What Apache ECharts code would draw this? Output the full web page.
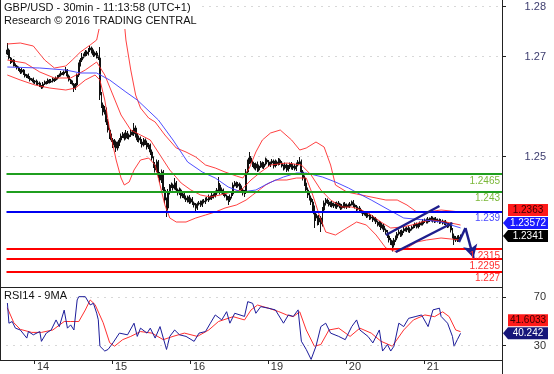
<!DOCTYPE html>
<html><head><meta charset="utf-8">
<script src="https://cdn.jsdelivr.net/npm/echarts@6/dist/echarts.min.js"></script>
<style>html,body{margin:0;padding:0;background:#fff}#c{width:554px;height:374px}</style>
</head><body><div id="c"></div>
<script>
// ---------------- data ----------------
const firstOpen = 1.2705;
const closes = [
1.2713,1.2697,1.2689,1.2693,1.2683,1.2681,1.2677,1.2673,1.2669,1.2673,
1.2665,1.2661,1.2663,1.2657,1.2653,1.2655,1.2649,1.2651,1.2645,1.2647,
1.2641,1.2639,1.2645,1.2649,1.2647,1.2653,1.2649,1.2651,1.2655,1.2653,
1.2657,1.2661,1.2663,1.2667,1.2665,1.2669,1.2673,1.2661,1.2653,1.2649,
1.2645,1.2637,1.2643,1.2663,1.2683,1.2693,1.2699,1.2703,1.2709,1.2705,
1.2713,1.2717,1.2709,1.2703,1.2707,1.2699,1.2697,1.2623,1.2603,1.2589,
1.2593,1.2569,1.2553,1.2541,1.2533,1.2523,1.2529,1.2517,1.2525,1.2533,
1.2541,1.2545,1.2537,1.2547,1.2539,1.2543,1.2549,1.2545,1.2557,1.2543,
1.2533,1.2537,1.2529,1.2523,1.2533,1.2527,1.2519,1.2523,1.2509,1.2497,
1.2483,1.2473,1.2489,1.2463,1.2453,1.2469,1.2433,1.2413,1.2397,1.2429,
1.2441,1.2443,1.2437,1.2447,1.2433,1.2427,1.2433,1.2421,1.2425,1.2417,
1.2413,1.2419,1.2409,1.2415,1.2407,1.2403,1.2397,1.2405,1.2407,1.2403,
1.2411,1.2409,1.2415,1.2413,1.2419,1.2417,1.2423,1.2421,1.2427,1.2433,
1.2443,1.2429,1.2433,1.2425,1.2421,1.2417,1.2413,1.2419,1.2425,1.2443,
1.2447,1.2441,1.2445,1.2437,1.2433,1.2427,1.2429,1.2469,1.2489,1.2497,
1.2489,1.2483,1.2477,1.2485,1.2473,1.2481,1.2487,1.2479,1.2485,1.2493,
1.2489,1.2483,1.2487,1.2491,1.2481,1.2489,1.2485,1.2493,1.2487,1.2481,
1.2477,1.2483,1.2473,1.2479,1.2485,1.2477,1.2481,1.2475,1.2483,1.2489,
1.2489,1.2469,1.2457,1.2447,1.2433,1.2423,1.2417,1.2409,1.2397,1.2385,
1.2377,1.2369,1.2377,1.2365,1.2393,1.2407,1.2413,1.2409,1.2403,1.2407,
1.2401,1.2405,1.2399,1.2407,1.2403,1.2397,1.2401,1.2405,1.2399,1.2403,
1.2401,1.2405,1.2409,1.2403,1.2399,1.2395,1.2397,1.2391,1.2389,1.2385,
1.2387,1.2381,1.2383,1.2377,1.2379,1.2373,1.2375,1.2369,1.2363,1.2367,
1.2357,1.2361,1.2353,1.2349,1.2341,1.2333,1.2327,1.2323,1.2333,1.2337,
1.2345,1.2349,1.2343,1.2351,1.2355,1.2353,1.2357,1.2351,1.2355,1.2359,
1.2361,1.2365,1.2359,1.2363,1.2367,1.2365,1.2371,1.2373,1.2369,1.2375,
1.2373,1.2377,1.2371,1.2375,1.2371,1.2373,1.2369,1.2371,1.2367,1.2369,
1.2365,1.2361,1.2363,1.2353,1.2341,1.2333,1.2337,1.2333,1.2339,1.2341
];
// wick lengths above / below the candle body, in pips
const wickUp = [
14,3,2,4,2,3,2,3,2,4,2,3,2,3,4,2,3,2,3,2,
3,2,4,3,2,3,2,4,3,2,3,2,3,4,2,3,6,2,3,2,
3,2,4,3,5,4,8,3,4,3,4,4,3,5,3,4,3,22,6,5,
8,5,6,4,5,4,6,3,5,4,5,4,3,6,4,3,5,4,10,5,
4,5,3,6,4,3,5,4,3,5,4,6,5,4,6,5,4,6,5,6,
4,5,3,10,4,3,5,3,4,3,5,3,4,3,4,3,4,3,4,5,
3,4,3,4,5,3,4,3,5,4,16,4,5,3,4,3,4,5,4,5,
4,3,4,3,5,3,4,6,5,12,4,3,4,3,5,3,4,3,4,5,
3,4,3,4,3,5,3,4,3,4,3,5,3,4,3,4,3,4,5,4,
10,5,4,5,4,5,4,5,6,5,6,5,6,4,6,5,4,3,4,3,
4,3,4,3,4,3,4,3,4,3,3,4,3,4,3,4,3,4,3,3,
4,3,4,3,3,4,3,4,3,4,3,3,4,3,4,5,4,5,4,5,
4,5,4,3,4,3,3,4,3,3,4,3,3,4,3,3,4,3,3,4,
3,4,3,3,4,3,3,4,3,3,4,3,4,5,4,5,4,5,4,3
];
const wickDn = [
2,3,4,2,3,2,3,2,4,3,2,3,4,2,3,2,3,4,2,3,
2,4,3,2,3,2,3,2,3,4,2,3,2,3,2,3,2,4,3,4,
3,8,4,3,4,3,4,3,3,4,3,4,3,4,3,3,4,10,6,7,
5,6,5,6,4,6,5,8,5,4,5,4,5,3,4,5,4,3,4,5,
4,5,4,5,3,4,5,4,6,5,6,5,4,6,5,6,6,7,18,5,
5,4,5,3,4,5,4,5,4,3,4,5,4,3,4,5,10,4,3,4,
4,3,4,3,4,3,4,5,3,4,4,5,3,4,3,5,10,4,3,4,
3,4,3,4,3,5,8,4,5,4,3,4,3,5,4,3,4,3,4,3,
4,3,4,3,5,3,4,3,4,3,5,3,4,3,4,3,4,3,4,3,
4,5,5,6,5,6,5,6,7,28,6,7,6,16,5,4,5,4,3,4,
3,4,3,4,3,4,3,4,3,4,3,4,3,4,3,4,3,4,3,4,
3,4,3,4,3,4,3,4,3,4,4,3,4,5,4,5,4,13,5,4,
4,3,4,3,4,3,4,3,4,3,3,4,3,3,4,3,3,4,3,3,
4,3,3,4,3,3,4,3,3,4,3,4,3,5,5,10,4,4,3,3
];
// Bollinger bands and moving average: [bar index, price]
const bandUpper = [[0,1.2725],[8,1.2727],[16,1.2721],[23,1.2693],[29,1.2677],[36,1.2681],[40,1.2693],[45,1.2709],[51,1.2723],[55,1.2733],[57,1.2763],[59,1.2803],[61,1.2853],[65,1.2883],[68,1.2853],[71,1.2803],[73,1.2733],[76,1.2673],[79,1.2623],[82,1.2597],[87,1.2577],[91,1.2569],[97,1.2543],[104,1.2517],[110,1.2509],[116,1.2499],[122,1.2483],[128,1.2477],[134,1.2469],[141,1.2461],[145,1.2457],[149,1.2477],[153,1.2509],[157,1.2533],[162,1.2547],[168,1.2553],[175,1.2533],[180,1.2513],[184,1.2517],[190,1.2529],[195,1.2519],[199,1.2483],[202,1.2443],[209,1.2429],[215,1.2425],[221,1.2421],[227,1.2417],[233,1.2413],[240,1.2413],[246,1.2403],[252,1.2389],[258,1.2389],[267,1.2393],[279,1.2389]];
const bandMiddle = [[0,1.2693],[11,1.2687],[20,1.2669],[29,1.2657],[39,1.2657],[48,1.2673],[55,1.2689],[60,1.2663],[65,1.2623],[70,1.2583],[76,1.2553],[82,1.2543],[88,1.2533],[94,1.2503],[100,1.2473],[107,1.2447],[113,1.2433],[119,1.2423],[125,1.2419],[131,1.2423],[138,1.2429],[144,1.2433],[150,1.2453],[156,1.2469],[162,1.2483],[172,1.2487],[181,1.2483],[187,1.2463],[193,1.2433],[199,1.2413],[206,1.2399],[212,1.2399],[218,1.2393],[224,1.2383],[230,1.2369],[236,1.2357],[243,1.2359],[249,1.2363],[255,1.2369],[261,1.2373],[270,1.2369],[279,1.2363]];
const bandLower = [[0,1.2663],[8,1.2653],[17,1.2643],[26,1.2637],[36,1.2633],[42,1.2637],[48,1.2653],[54,1.2663],[57,1.2653],[60,1.2613],[63,1.2553],[67,1.2493],[70,1.2457],[72,1.2443],[75,1.2449],[78,1.2473],[82,1.2493],[87,1.2497],[91,1.2483],[94,1.2443],[97,1.2403],[100,1.2377],[104,1.2369],[110,1.2369],[116,1.2377],[122,1.2383],[128,1.2389],[134,1.2397],[141,1.2403],[147,1.2413],[151,1.2423],[155,1.2433],[159,1.2443],[165,1.2453],[172,1.2453],[178,1.2457],[184,1.2457],[188,1.2423],[192,1.2383],[196,1.2349],[202,1.2343],[209,1.2357],[215,1.2369],[221,1.2363],[227,1.2343],[233,1.2317],[240,1.2309],[246,1.2317],[252,1.2329],[258,1.2333],[267,1.2337],[279,1.2333]];
const movingAvg = [[0,1.2679],[20,1.2677],[36,1.2673],[45,1.2667],[55,1.2667],[63,1.2653],[73,1.2629],[80,1.2613],[93,1.2573],[102,1.2533],[111,1.2489],[120,1.2469],[128,1.2457],[136,1.2439],[144,1.2429],[153,1.2433],[161,1.2447],[170,1.2459],[178,1.2467],[184,1.2467],[194,1.2459],[202,1.2449],[210,1.2437],[218,1.2423],[224,1.2413],[235,1.2393],[244,1.2377],[257,1.2373],[267,1.2369],[279,1.23572]];
// support / resistance levels
const levels = [1.2465, 1.243, 1.239, 1.2315, 1.2295, 1.227];
const levelKinds = ['res','res','pivot','sup','sup','sup'];
// drawn channel and forecast arrow: [bar index, price]
const channelUpper = [[233,1.2343],[266,1.2401]];
const channelLower = [[239,1.2309],[274,1.2367]];
const arrowPath = [[278,1.2329],[282,1.2357],[287,1.2297]];
// RSI(14) and its 9-period MA: [bar index, value]
const rsi = [[0,66.3],[1,48.6],[3,50],[5,44.5],[8,43],[12,36.3],[13,41.7],[16,39],[20,41.7],[21,33.6],[24,40.4],[27,43],[30,51.3],[32,45.8],[35,59.4],[37,44.5],[39,47.2],[41,43],[43,67.8],[44,70.5],[48,70.5],[49,71.8],[51,63.7],[53,65],[55,56.9],[56,51.4],[57,29.6],[60,25.6],[62,26.9],[65,32.3],[69,40.4],[74,39],[78,48.6],[80,37.7],[82,44.5],[86,40.4],[88,44.5],[91,36.3],[94,45.8],[98,26.9],[100,37.7],[103,43],[106,39],[110,37.7],[115,33.6],[118,40.4],[122,41.7],[125,48.6],[128,55.4],[132,51.3],[135,58.1],[137,48.6],[140,56.8],[146,54.2],[148,66.4],[151,65],[153,56.8],[156,62.3],[161,60.9],[165,59.6],[170,48.6],[173,55.4],[176,54.2],[179,59.6],[181,33.7],[184,26.9],[187,18.7],[190,29.6],[193,45.8],[196,48.6],[199,40.4],[204,37.7],[208,35],[212,45.8],[215,51.3],[217,43],[222,37.7],[225,32.3],[229,43],[231,25.6],[234,31],[236,25.6],[238,29.6],[241,48.6],[244,45.8],[247,52.6],[251,54],[255,55.4],[259,45.8],[262,59.6],[266,61],[267,54.2],[271,48.6],[274,37.7],[275,29.6],[277,35],[279,40.242]];
const rsiMa = [[0,61.3],[4,49],[8,43.5],[15,41],[21,41],[28,43],[35,50],[39,50],[44,50],[48,59.5],[51,67.8],[54,64],[59,49],[63,32.5],[66,29.6],[71,35],[76,37.7],[82,41.7],[89,40.4],[96,35],[102,37.7],[109,40.4],[117,37.7],[124,43],[130,50],[139,54],[146,51.3],[150,59.5],[154,63.6],[161,60.9],[167,58.2],[172,55.4],[176,54],[180,58],[184,43],[189,29.6],[193,31],[198,43],[204,44.5],[211,37.7],[217,44.5],[224,40.4],[230,33.7],[237,29.6],[244,43],[250,51.3],[257,55.4],[263,54],[268,58],[272,54],[276,43],[279,41.6033]];
// axis ticks
const priceTicks = [1.25, 1.27, 1.28];
const rsiTicks = [30, 70];
const sessions = [[13,31],[14,0],[15,0],[16,0],[19,0],[20,0],[21,0]]; // [day, first half-hour slot]

// ---------------- build ----------------
const FONT = 'Liberation Sans, Arial, sans-serif';
const GL = 6.5, GR = 52, PT = 0, PH = 287, RT = 287, RH = 73;
const AXIS_X = 554 - GR;
const categories = [], dayStart = {};
sessions.forEach(([d, from]) => {
  for (let k = from; k < 48; k++) {
    if (k === 0) dayStart[categories.length] = String(d);
    const h = String(Math.floor(k / 2)).padStart(2, '0');
    categories.push('Dec ' + d + ' ' + h + ':' + (k % 2 ? '30' : '00'));
  }
});
const ohlc = closes.map((c, i) => {
  const o = i ? closes[i - 1] : firstOpen;
  return [o, c, +(Math.min(o, c) - wickDn[i] * 1e-4).toFixed(5), +(Math.max(o, c) + wickUp[i] * 1e-4).toFixed(5)];
});
const levelStyle = {
  res:   {line: '#1f9e1f', text: '#7cb83a'},
  pivot: {line: '#0000f0', text: '#4a4aff'},
  sup:   {line: '#ff0000', text: '#ff3030'}
};
const levelLines = levels.map((v, i) => {
  const s = levelStyle[levelKinds[i]];
  return {yAxis: v, lineStyle: {color: s.line, width: 2, type: 'solid'},
    label: {show: true, position: 'insideEndBottom', distance: 2, formatter: String(v), color: s.text, fontSize: 10, fontFamily: FONT}};
});
const seg = (a, b) => [{coord: a}, {coord: b}];
const NAVY = '#1e1e8c';
const annotLines = [
  seg(channelUpper[0], channelUpper[1]),
  seg(channelLower[0], channelLower[1]),
  seg(arrowPath[0], arrowPath[1]),
  [{coord: arrowPath[1], symbol: 'none'}, {coord: arrowPath[2], symbol: 'arrow', symbolSize: [11, 13]}]
];
const dotted = (vals, xi, yi) => ({
  type: 'line', xAxisIndex: xi, yAxisIndex: yi, data: [], silent: true, z: 1,
  markLine: {silent: true, symbol: ['none', 'none'], animation: false, precision: 6, label: {show: false},
    lineStyle: {color: '#b0b0b0', width: 1, type: [1, 6]}, data: vals.map(v => ({yAxis: v}))}
});
const bandLine = (d) => ({type: 'line', xAxisIndex: 0, yAxisIndex: 0, data: d, showSymbol: false, symbol: 'none', clip: true, z: 3,
  lineStyle: {color: '#ff2020', width: 1, opacity: 0.85}});

const chart = echarts.init(document.getElementById('c'), null, {renderer: 'canvas'});
const option = {
  animation: false,
  backgroundColor: '#fff',
  textStyle: {fontFamily: FONT},
  title: [
    {text: 'GBP/USD - 30min - 11:13:58 (UTC+1)', subtext: 'Research © 2016 TRADING CENTRAL', left: 1, top: 0,
     padding: [1, 4, 2, 3], itemGap: 0, backgroundColor: '#fff', z: 10,
     textStyle: {fontSize: 11, fontWeight: 'normal', color: '#111', fontFamily: FONT, lineHeight: 13},
     subtextStyle: {fontSize: 11, color: '#111', fontFamily: FONT, lineHeight: 13}},
    {text: 'RSI14 - 9MA', left: 1, top: 288, padding: [1, 3, 1, 3], backgroundColor: '#fff', z: 10,
     textStyle: {fontSize: 11, fontWeight: 'normal', color: '#111', fontFamily: FONT, lineHeight: 13}}
  ],
  grid: [
    {left: GL, right: GR, top: PT, height: PH},
    {left: GL, right: GR, top: RT, height: RH}
  ],
  xAxis: [
    {type: 'category', gridIndex: 0, data: categories, boundaryGap: true, show: false},
    {type: 'category', gridIndex: 1, data: categories, boundaryGap: true,
     axisLine: {show: false},
     axisTick: {show: true, length: 4, interval: (i) => i in dayStart, lineStyle: {color: '#222'}},
     axisLabel: {show: true, interval: (i) => i in dayStart, formatter: (v, i) => dayStart[i] || '',
       align: 'left', padding: [0, 0, 0, 2], margin: 1, fontSize: 11, color: '#333', fontFamily: FONT},
     splitLine: {show: false}}
  ],
  yAxis: [
    {type: 'value', gridIndex: 0, position: 'right', min: 1.2239, max: 1.2813, scale: true,
     axisLine: {show: false}, splitLine: {show: false},
     axisTick: {show: true, length: 4, customValues: priceTicks, lineStyle: {color: '#222'}},
     axisLabel: {show: true, customValues: priceTicks, formatter: (v) => String(v), align: 'right', margin: 44,
       fontSize: 11, color: '#3c3c6e', fontFamily: FONT}},
    {type: 'value', gridIndex: 1, position: 'right', min: 18.2, max: 78.5, scale: true,
     axisLine: {show: false}, splitLine: {show: false},
     axisTick: {show: true, length: 4, customValues: rsiTicks, lineStyle: {color: '#222'}},
     axisLabel: {show: true, customValues: rsiTicks, formatter: (v) => String(v), align: 'right', margin: 44,
       fontSize: 11, color: '#333', fontFamily: FONT}}
  ],
  series: [
    dotted(priceTicks, 0, 0),
    dotted(rsiTicks, 1, 1),
    {type: 'candlestick', name: 'GBP/USD', xAxisIndex: 0, yAxisIndex: 0, data: ohlc, barWidth: 1.4, z: 2,
     itemStyle: {color: '#888', color0: '#111', borderColor: '#111', borderColor0: '#111', borderWidth: 1}},
    bandLine(bandUpper), bandLine(bandMiddle), bandLine(bandLower),
    {type: 'line', xAxisIndex: 0, yAxisIndex: 0, data: movingAvg, showSymbol: false, symbol: 'none', z: 3,
     lineStyle: {color: '#3c3cff', width: 1, opacity: 0.9}},
    {type: 'line', xAxisIndex: 0, yAxisIndex: 0, data: [], z: 5,
     markLine: {silent: true, animation: false, precision: 6, symbol: ['none', 'none'], label: {show: false},
       data: levelLines}},
    {type: 'line', xAxisIndex: 0, yAxisIndex: 0, data: [], z: 6,
     markLine: {silent: true, animation: false, precision: 6, symbol: ['none', 'none'], label: {show: false},
       lineStyle: {color: NAVY, width: 2.5, type: 'solid'}, data: annotLines}},
    {type: 'line', xAxisIndex: 1, yAxisIndex: 1, data: rsiMa, showSymbol: false, symbol: 'none', z: 3,
     lineStyle: {color: '#ff3030', width: 1}},
    {type: 'line', xAxisIndex: 1, yAxisIndex: 1, data: rsi, showSymbol: false, symbol: 'none', z: 4,
     lineStyle: {color: '#1c1c9a', width: 1}}
  ]
};
chart.setOption(option);

// ---------- frame and last-value tags ----------
function tagsFor(list, xi, yi) {
  const items = list.map(t => Object.assign({}, t, {y: chart.convertToPixel({xAxisIndex: xi, yAxisIndex: yi}, [0, t.v])[1]}));
  items.sort((a, b) => b.y - a.y);
  let prev = Infinity;
  items.forEach(t => { t.y = Math.min(t.y, prev - 13); prev = t.y; });
  const out = [];
  items.forEach(t => {
    const h = 12, top = t.y - h / 2, x0 = AXIS_X + 6, x1 = AXIS_X + 46;
    const pts = t.arrow ? [[AXIS_X + 1, t.y], [x0, top], [x1, top], [x1, top + h], [x0, top + h]]
                        : [[x0, top], [x1, top], [x1, top + h], [x0, top + h]];
    out.push({type: 'polygon', shape: {points: pts}, style: {fill: t.bg}, z: 20});
    out.push({type: 'text', x: (x0 + x1) / 2, y: t.y, z: 21,
      style: {text: String(t.v), fill: t.fg, font: '10px ' + FONT, align: 'center', verticalAlign: 'middle'}});
  });
  return out;
}
const last = (a) => a[a.length - 1][1];
const priceTags = tagsFor([
  {v: last(bandMiddle), bg: '#ff1a1a', fg: '#3a0000', arrow: false},
  {v: last(movingAvg), bg: '#1a1aff', fg: '#ffffff', arrow: true},
  {v: closes[closes.length - 1], bg: '#000000', fg: '#ffffff', arrow: true}
], 0, 0);
const rsiTags = tagsFor([
  {v: last(rsiMa), bg: '#ff1a1a', fg: '#3a0000', arrow: false},
  {v: last(rsi), bg: '#16167a', fg: '#ffffff', arrow: true}
], 1, 1);
const ln = (x1, y1, x2, y2) => ({type: 'line', shape: {x1, y1, x2, y2}, style: {stroke: '#222', lineWidth: 1}, z: 15, silent: true});
chart.setOption({graphic: [
  ln(0.5, 0, 0.5, RT + RH),
  ln(0, RT + 0.5, AXIS_X, RT + 0.5),
  ln(0, RT + RH + 0.5, AXIS_X, RT + RH + 0.5),
  ln(AXIS_X + 0.5, 0, AXIS_X + 0.5, 374),
  ...priceTags, ...rsiTags
]});
</script>
</body></html>
